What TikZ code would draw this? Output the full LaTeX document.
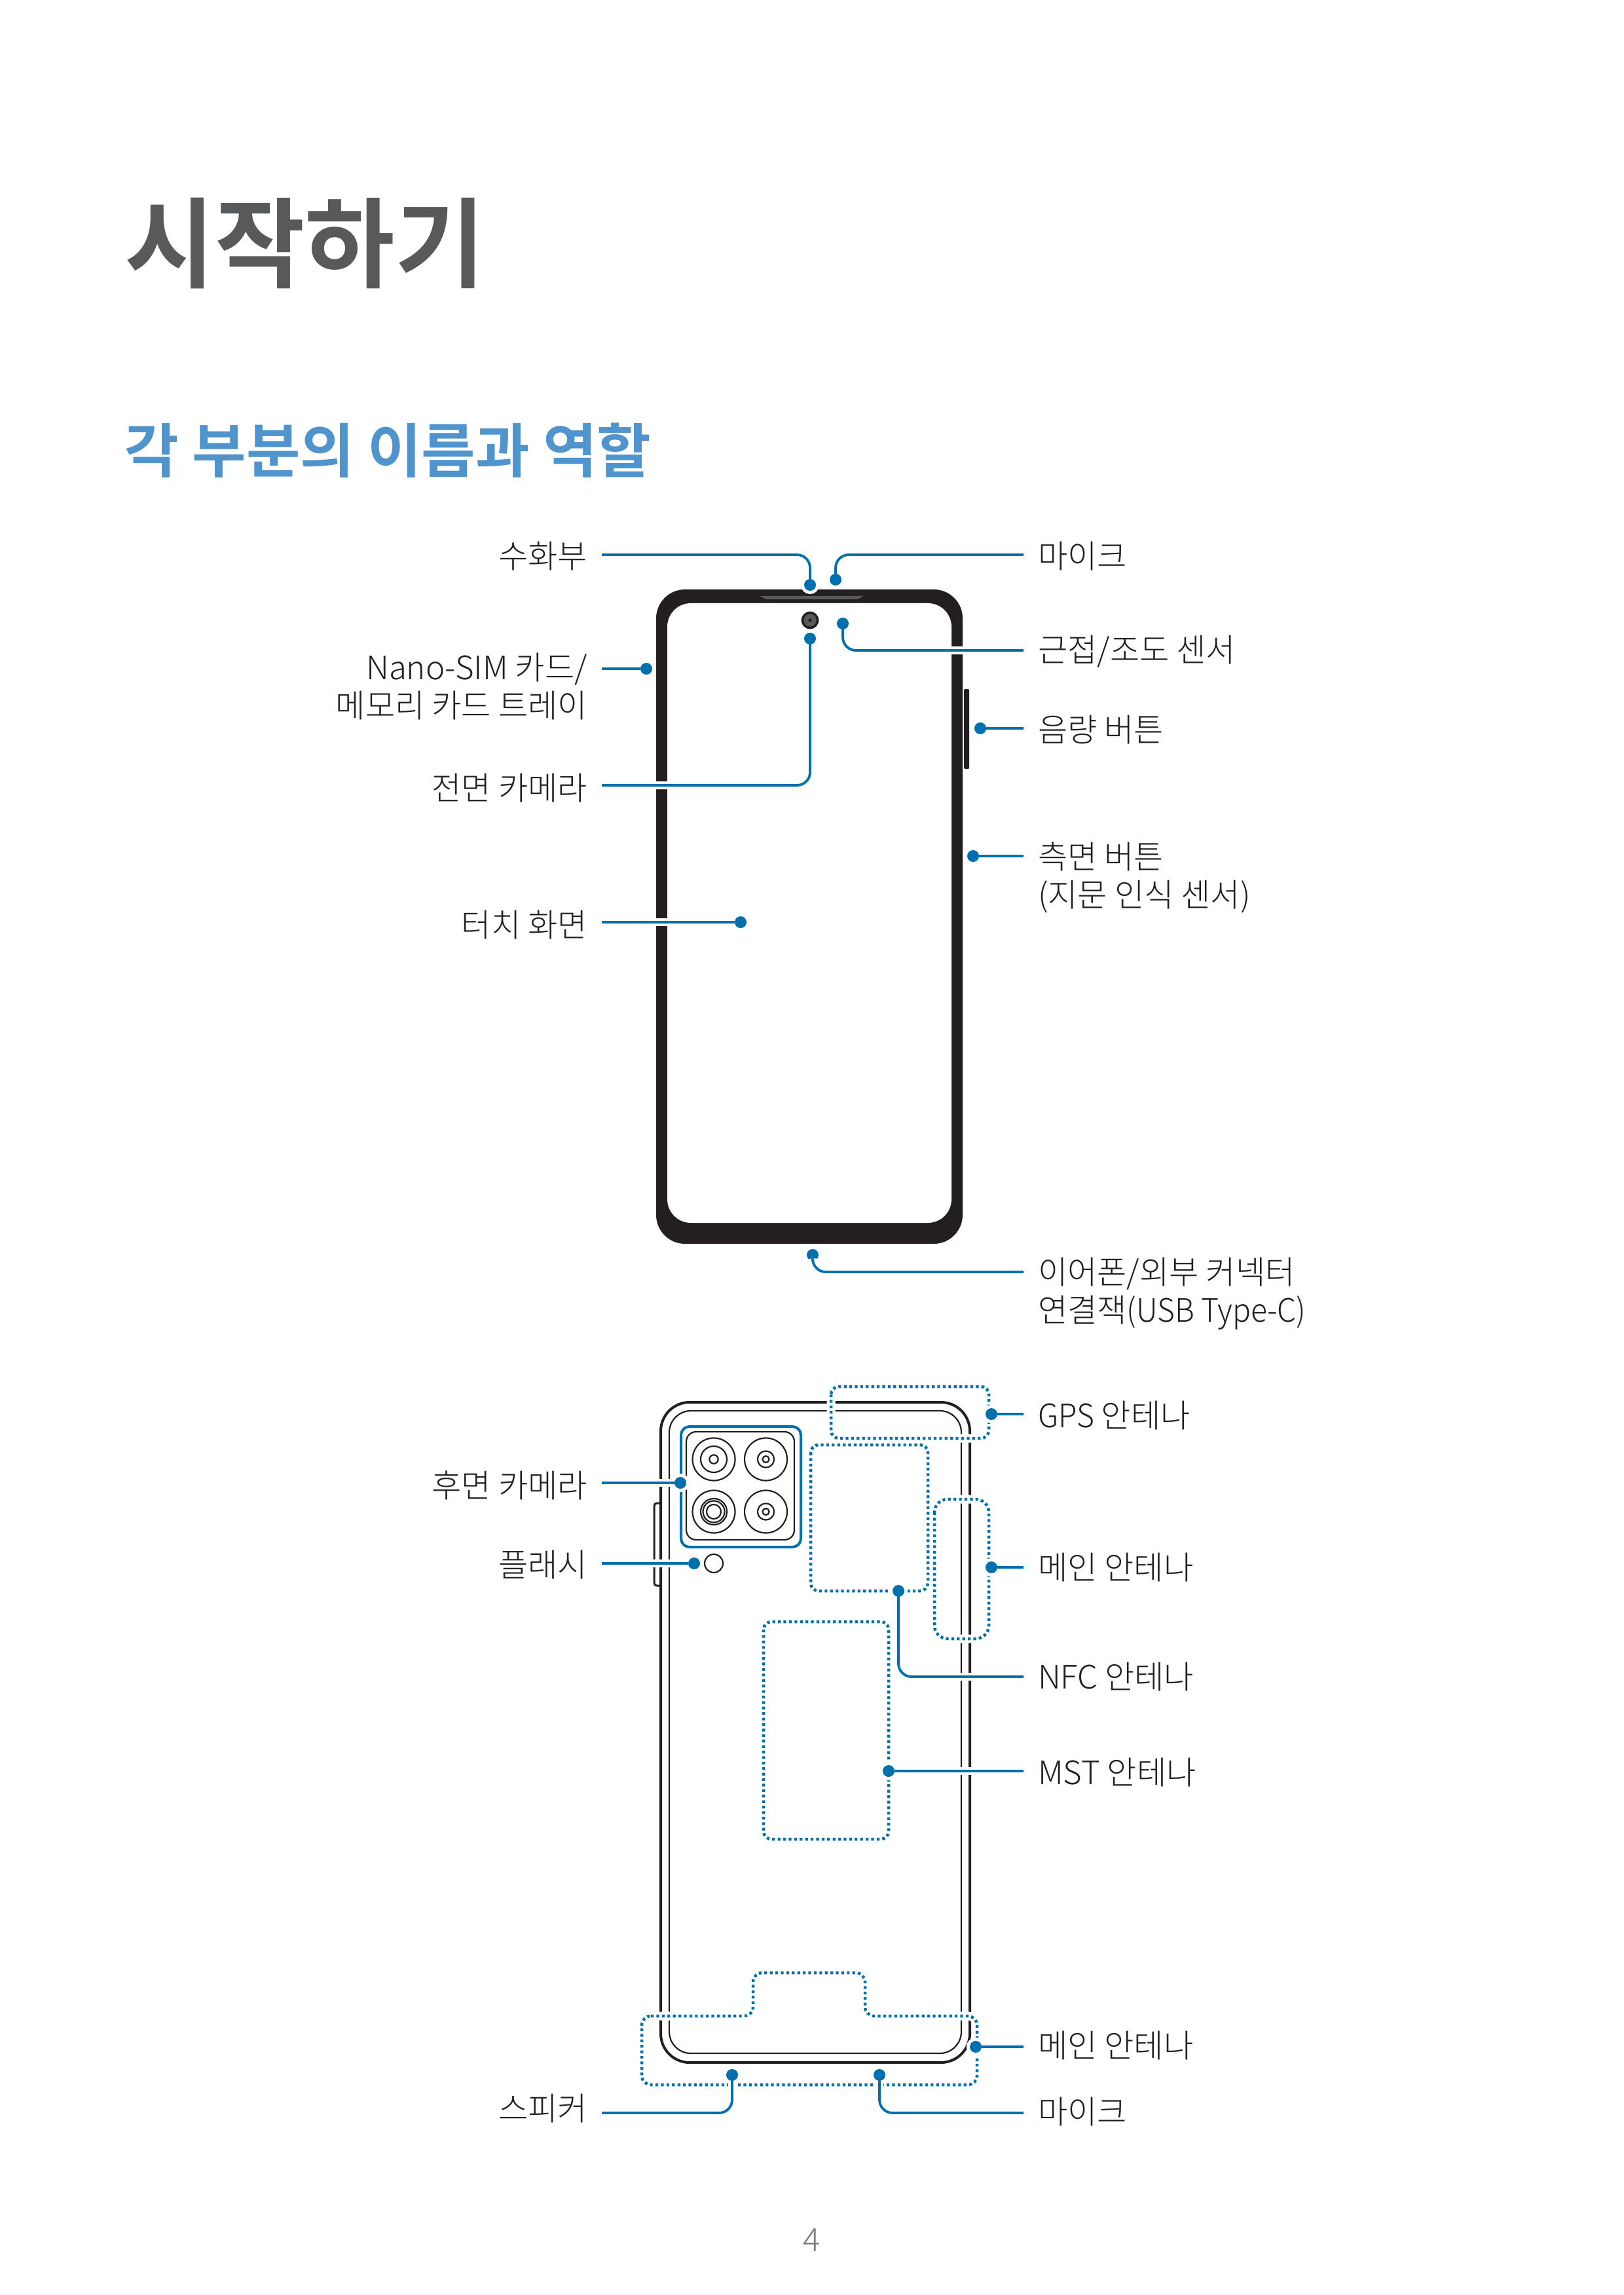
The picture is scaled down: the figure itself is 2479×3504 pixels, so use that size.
\documentclass[tikz,border=0pt]{standalone}
\usepackage{fontspec}
\usetikzlibrary{calc}
\setmainfont{Noto Sans CJK KR Light}
\newfontfamily\krbold{Noto Sans CJK KR Bold}
\newfontfamily\narrowlat[FakeStretch=0.94]{Noto Sans CJK KR Light}
\definecolor{leadblue}{HTML}{006FAD}
\definecolor{headblue}{HTML}{4F94CD}
\definecolor{ink}{HTML}{231F20}
\definecolor{titlegray}{HTML}{58595B}
\begin{document}
\begin{tikzpicture}[
    x=0.01cm, y=-0.01cm,
    pin/.style={circle, inner sep=0pt, outer sep=0pt, minimum size=0.18cm,
                fill=leadblue, preaction={draw=white, line width=0.1cm}},
    leader/.style={draw=leadblue, line width=0.038cm, rounded corners=0.2cm,
                   preaction={draw=white, line width=0.12cm}},
    lab/.style={font=\fontsize{14pt}{16.5pt}\selectfont, text=ink, inner sep=0pt,
                inner xsep=0.22cm, outer sep=0pt},
    rlab/.style={lab, anchor=west, align=left},
    llab/.style={lab, anchor=east, align=right},
    antenna/.style={draw=leadblue, line width=0.045cm, dash pattern=on 0.042cm off 0.042cm,
                    rounded corners=0.12cm,
                    preaction={draw=white, solid, line width=0.13cm}},
    thickline/.style={draw=ink, line width=0.04cm},
    thinline/.style={draw=ink, line width=0.022cm}
  ]
  \useasboundingbox (0,0) rectangle (2479,3504);

  \node[anchor=west, inner sep=0pt, text=titlegray,
    font=\krbold\fontsize{42.5pt}{48pt}\selectfont] (title) at (190,372) {시작하기};
  \node[anchor=west, inner sep=0pt, text=headblue,
    font=\krbold\fontsize{25.5pt}{30pt}\selectfont] (heading) at (190,688) {각 부분의 이름과 역할};
  \node[text=titlegray!80, font=\fontsize{14pt}{16pt}\selectfont] (pageno) at (1240,3420) {4};

  % front of the phone
  \fill[ink, rounded corners=0.44cm] (1002,900) rectangle (1470,1899);
  \fill[white, rounded corners=0.36cm] (1019,921) rectangle (1453,1867);
  \fill[titlegray] (1160,910) -- (1318,910) -- (1310,915) -- (1170,915) -- cycle;
  \fill[ink] (1237,947) circle (13.4);
  \fill[titlegray] (1237,947) circle (9.6);
  \fill[ink] (1237,947) circle (2.6);
  \fill[ink, rounded corners=0.015cm] (1472,1052) rectangle (1480,1174);

  % back of the phone
  \draw[thinline, line width=0.03cm, rounded corners=0.04cm]
    (1009,2295) -- (999,2295) -- (999,2421) -- (1009,2421);
  \draw[thickline, rounded corners=0.44cm] (1009,2141) rectangle (1481,3149);
  \draw[thinline, rounded corners=0.33cm] (1022,2154) rectangle (1468,3135);
  \draw[draw=leadblue, line width=0.04cm, rounded corners=0.13cm] (1040,2178) rectangle (1223,2362);
  \draw[thinline, rounded corners=0.15cm] (1048,2186) rectangle (1213,2351);
  \draw[thinline] (1090,2228) circle (32.5) circle (20) circle (6.7);
  \draw[thinline] (1169.5,2228) circle (32.5) circle (12.6) circle (5);
  \draw[thinline] (1090,2308) circle (32.5) circle (20) circle (16.5) circle (11);
  \draw[thinline] (1169.5,2308) circle (32.5) circle (12.6) circle (5);
  \draw[thinline] (1090,2387) circle (14);

  \draw[antenna] (1269,2117) rectangle (1510,2196);
  \draw[antenna] (1238,2206) rectangle (1417,2429);
  \draw[antenna, rounded corners=0.2cm] (1427,2289) rectangle (1510,2502);
  \draw[antenna] (1166,2476) rectangle (1357,2808);
  \draw[antenna, rounded corners=0.14cm] (980,3078) -- (1150,3078) -- (1150,3012) -- (1321,3012)
    -- (1321,3078) -- (1492,3078) -- (1492,3183) -- (980,3183) -- cycle;

  % labels
  \node[llab] (earlab) at (919,849) {수화부};
  \node[rlab] (miclab) at (1563,849) {마이크};
  \node[rlab] (proxlab) at (1563,995) {근접/조도 센서};
  \node[llab] (simlab) at (919,1048) {Nano-SIM 카드/\\메모리 카드 트레이};
  \node[rlab] (vollab) at (1563,1114) {음량 버튼};
  \node[llab] (camlab) at (919,1203) {전면 카메라};
  \node[rlab] (sidelab) at (1563,1340) {측면 버튼\\(지문 인식 센서)};
  \node[llab] (touchlab) at (919,1412) {터치 화면};
  \node[rlab] (usblab) at (1563,1975) {이어폰/외부 커넥터\\연결잭{\narrowlat(USB Type-C)}};
  \node[rlab] (gpslab) at (1563,2161) {{\narrowlat GPS} 안테나};
  \node[llab] (rearlab) at (919,2268) {후면 카메라};
  \node[llab] (flashlab) at (919,2389) {플래시};
  \node[rlab] (mainlab) at (1563,2393) {메인 안테나};
  \node[rlab] (nfclab) at (1563,2560) {NFC 안테나};
  \node[rlab] (mstlab) at (1563,2706) {MST 안테나};
  \node[rlab] (lowmainlab) at (1563,3123) {메인 안테나};
  \node[llab] (spklab) at (919,3219) {스피커};
  \node[rlab] (lowmiclab) at (1563,3224) {마이크};

  % pins
  \node[pin] (earpin) at (1237,893) {};
  \node[pin] (micpin) at (1276,885) {};
  \node[pin] (proxpin) at (1287,952) {};
  \node[pin] (simpin) at (987,1021) {};
  \node[pin] (volpin) at (1497,1112) {};
  \node[pin] (campin) at (1237,975) {};
  \node[pin] (sidepin) at (1486,1307) {};
  \node[pin] (touchpin) at (1131,1408) {};
  \node[pin] (usbpin) at (1241,1916) {};
  \node[pin] (gpspin) at (1514,2159) {};
  \node[pin] (rearpin) at (1039,2264) {};
  \node[pin] (flashpin) at (1060,2387) {};
  \node[pin] (mainpin) at (1514,2393) {};
  \node[pin] (nfcpin) at (1372,2429) {};
  \node[pin] (mstpin) at (1357,2704) {};
  \node[pin] (lowmainpin) at (1490,3125) {};
  \node[pin] (spkpin) at (1118,3168) {};
  \node[pin] (lowmicpin) at (1343,3168) {};

  % connectors
  \draw[leader] ($(earlab.east)+(0,-2)$) -| (earpin);
  \draw[leader] ($(miclab.west)+(0,-2)$) -| (micpin);
  \draw[leader] ($(proxlab.west)+(0,-2)$) -| (proxpin);
  \draw[leader] ($(simlab.east)+(0,-27)$) -- (simpin);
  \draw[leader] ($(vollab.west)+(0,-2)$) -- (volpin);
  \draw[leader] ($(camlab.east)+(0,-4)$) -| (campin);
  \draw[leader] ($(sidelab.west)+(0,-33)$) -- (sidepin);
  \draw[leader] ($(touchlab.east)+(0,-4)$) -- (touchpin);
  \draw[leader] ($(usblab.west)+(0,-33)$) -| (usbpin);
  \draw[leader] ($(gpslab.west)+(0,-2)$) -- (gpspin);
  \draw[leader] ($(rearlab.east)+(0,-4)$) -- (rearpin);
  \draw[leader] ($(flashlab.east)+(0,-2)$) -- (flashpin);
  \draw[leader] (mainlab.west) -- (mainpin);
  \draw[leader] (nfclab.west) -| (nfcpin);
  \draw[leader] ($(mstlab.west)+(0,-2)$) -- (mstpin);
  \draw[leader] ($(lowmainlab.west)+(0,2)$) -- (lowmainpin);
  \draw[leader] ($(spklab.east)+(0,7)$) -| (spkpin);
  \draw[leader] ($(lowmiclab.west)+(0,2)$) -| (lowmicpin);
\end{tikzpicture}
\end{document}
